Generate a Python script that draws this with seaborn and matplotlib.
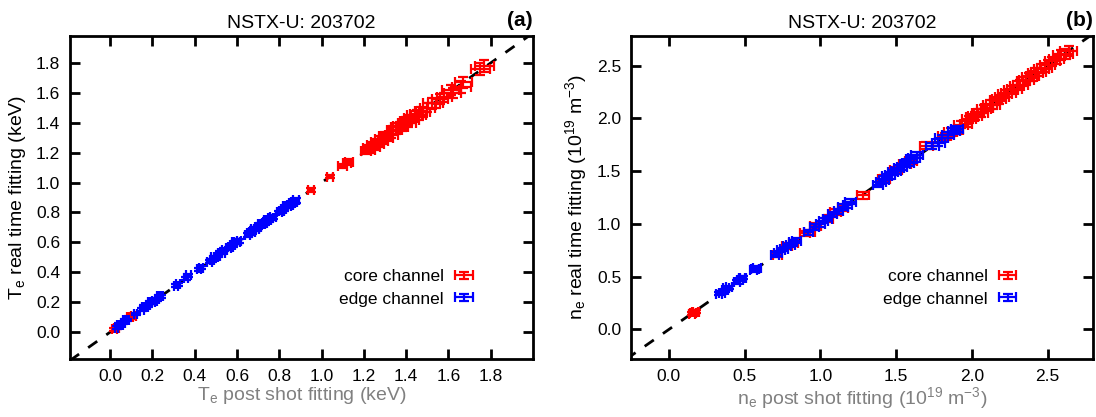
import matplotlib
matplotlib.use("Agg")
import matplotlib.pyplot as plt
from matplotlib.legend_handler import HandlerErrorbar
import seaborn as sns

# Panel (a): Te, keV
te_core_x = [0.02, 0.03, 0.09, 0.10, 0.11, 0.95, 1.04, 1.10, 1.12, 1.13,
             1.21, 1.22, 1.23, 1.24, 1.25, 1.26, 1.27, 1.28, 1.29, 1.30, 1.31,
             1.33, 1.34, 1.35, 1.36, 1.37, 1.38, 1.39, 1.40, 1.41, 1.42, 1.43, 1.44, 1.45, 1.46, 1.47, 1.48,
             1.50, 1.52, 1.54, 1.56, 1.58, 1.61, 1.62, 1.66, 1.67, 1.75, 1.77]
te_core_y = [0.02, 0.03, 0.10, 0.10, 0.11, 0.95, 1.04, 1.11, 1.13, 1.14,
             1.21, 1.23, 1.22, 1.25, 1.24, 1.27, 1.26, 1.29, 1.28, 1.31, 1.30,
             1.32, 1.35, 1.35, 1.37, 1.38, 1.37, 1.40, 1.41, 1.40, 1.43, 1.42, 1.45, 1.46, 1.45, 1.48, 1.47,
             1.50, 1.53, 1.53, 1.56, 1.57, 1.62, 1.60, 1.64, 1.67, 1.76, 1.78]
te_core_xerr = [0.01, 0.01, 0.01, 0.01, 0.01, 0.015, 0.015, 0.02, 0.02, 0.02,
                0.025, 0.025, 0.025, 0.025, 0.025, 0.025, 0.025, 0.025, 0.025, 0.03, 0.03,
                0.03, 0.03, 0.03, 0.03, 0.03, 0.03, 0.03, 0.03, 0.035, 0.03, 0.03, 0.035, 0.03, 0.035, 0.03, 0.035,
                0.035, 0.04, 0.035, 0.04, 0.035, 0.04, 0.04, 0.045, 0.04, 0.045, 0.045]
te_core_yerr = [0.01, 0.01, 0.01, 0.01, 0.01, 0.012, 0.012, 0.015, 0.015, 0.015,
                0.02, 0.02, 0.02, 0.02, 0.02, 0.02, 0.02, 0.02, 0.02, 0.025, 0.025,
                0.025, 0.025, 0.025, 0.025, 0.025, 0.025, 0.025, 0.025, 0.03, 0.025, 0.025, 0.03, 0.025, 0.03, 0.025, 0.03,
                0.03, 0.035, 0.03, 0.035, 0.03, 0.035, 0.035, 0.04, 0.035, 0.04, 0.04]

te_edge_x = [0.03, 0.04, 0.05, 0.06, 0.07, 0.08, 0.12,
             0.15, 0.16, 0.17, 0.18, 0.19, 0.20, 0.21, 0.22, 0.23, 0.24,
             0.31, 0.32, 0.36, 0.37, 0.42, 0.43,
             0.47, 0.48, 0.49, 0.50, 0.51, 0.52, 0.53, 0.54,
             0.56, 0.57, 0.58, 0.59, 0.60, 0.61,
             0.65, 0.66, 0.67, 0.68, 0.69, 0.70, 0.71, 0.72, 0.73, 0.74, 0.75, 0.76, 0.77,
             0.80, 0.81, 0.82, 0.83, 0.84, 0.85, 0.86, 0.87, 0.88]
te_edge_y = [0.03, 0.05, 0.05, 0.06, 0.08, 0.08, 0.12,
             0.15, 0.17, 0.17, 0.18, 0.20, 0.20, 0.21, 0.22, 0.24, 0.24,
             0.31, 0.32, 0.36, 0.38, 0.42, 0.43,
             0.47, 0.48, 0.50, 0.50, 0.51, 0.53, 0.53, 0.55,
             0.56, 0.57, 0.58, 0.60, 0.60, 0.61,
             0.65, 0.66, 0.67, 0.69, 0.69, 0.70, 0.72, 0.72, 0.73, 0.75, 0.75, 0.76, 0.77,
             0.80, 0.81, 0.82, 0.84, 0.84, 0.85, 0.86, 0.87, 0.88]
te_edge_xerr = [0.008, 0.008, 0.009, 0.008, 0.009, 0.008, 0.009,
                0.009, 0.01, 0.009, 0.01, 0.009, 0.01, 0.01, 0.009, 0.01, 0.01,
                0.01, 0.01, 0.01, 0.011, 0.01, 0.011,
                0.011, 0.01, 0.011, 0.011, 0.01, 0.011, 0.011, 0.012,
                0.011, 0.012, 0.011, 0.012, 0.012, 0.011,
                0.012, 0.012, 0.013, 0.012, 0.012, 0.013, 0.012, 0.013, 0.012, 0.013, 0.013, 0.012, 0.013,
                0.013, 0.013, 0.014, 0.013, 0.013, 0.014, 0.013, 0.014, 0.014]
te_edge_yerr = [0.008, 0.008, 0.008, 0.008, 0.009, 0.008, 0.009,
                0.009, 0.009, 0.009, 0.01, 0.009, 0.01, 0.009, 0.009, 0.01, 0.01,
                0.01, 0.01, 0.01, 0.01, 0.01, 0.011,
                0.011, 0.01, 0.011, 0.01, 0.01, 0.011, 0.011, 0.011,
                0.011, 0.011, 0.011, 0.012, 0.011, 0.011,
                0.012, 0.012, 0.012, 0.012, 0.012, 0.012, 0.012, 0.013, 0.012, 0.012, 0.013, 0.012, 0.013,
                0.013, 0.013, 0.013, 0.013, 0.013, 0.013, 0.013, 0.014, 0.014]

# Panel (b): ne, 1e19 m^-3
ne_core_x = [0.15, 0.16, 0.17, 0.18, 0.57, 0.72, 0.78, 0.82, 0.90, 0.93, 0.97,
             1.05, 1.10, 1.15, 1.28, 1.42, 1.50, 1.56, 1.60, 1.70,
             1.82, 1.86, 1.90, 1.93, 1.96, 1.98,
             2.00, 2.02, 2.04, 2.06, 2.08, 2.10, 2.12, 2.14, 2.16, 2.18, 2.20, 2.22, 2.24,
             2.26, 2.28, 2.30, 2.32, 2.34, 2.36, 2.38, 2.40, 2.42, 2.44, 2.46, 2.48, 2.50,
             2.53, 2.56, 2.59, 2.62, 2.64]
ne_core_y = [0.15, 0.16, 0.17, 0.17, 0.57, 0.71, 0.79, 0.82, 0.91, 0.92, 0.98,
             1.05, 1.11, 1.15, 1.27, 1.43, 1.51, 1.57, 1.60, 1.74,
             1.83, 1.87, 1.89, 1.94, 1.95, 1.99,
             2.01, 2.02, 2.05, 2.05, 2.09, 2.10, 2.13, 2.13, 2.17, 2.18, 2.20, 2.23, 2.24,
             2.27, 2.28, 2.31, 2.32, 2.35, 2.36, 2.39, 2.40, 2.43, 2.44, 2.47, 2.48, 2.51,
             2.54, 2.56, 2.60, 2.61, 2.64]
ne_core_xerr = [0.02, 0.02, 0.02, 0.02, 0.025, 0.03, 0.03, 0.03, 0.035, 0.035, 0.035,
                0.035, 0.035, 0.035, 0.04, 0.04, 0.04, 0.04, 0.04, 0.045,
                0.04, 0.045, 0.04, 0.045, 0.04, 0.045,
                0.04, 0.045, 0.04, 0.045, 0.045, 0.04, 0.045, 0.045, 0.04, 0.045, 0.045, 0.045, 0.05,
                0.045, 0.05, 0.045, 0.05, 0.045, 0.05, 0.05, 0.045, 0.05, 0.05, 0.05, 0.05, 0.05,
                0.05, 0.05, 0.055, 0.05, 0.055]
ne_core_yerr = [0.015, 0.015, 0.015, 0.015, 0.02, 0.025, 0.025, 0.025, 0.025, 0.025, 0.025,
                0.03, 0.03, 0.03, 0.03, 0.03, 0.03, 0.03, 0.03, 0.035,
                0.035, 0.035, 0.035, 0.035, 0.035, 0.035,
                0.035, 0.04, 0.035, 0.04, 0.04, 0.035, 0.04, 0.04, 0.035, 0.04, 0.04, 0.04, 0.04,
                0.04, 0.04, 0.04, 0.045, 0.04, 0.045, 0.04, 0.045, 0.045, 0.04, 0.045, 0.045, 0.045,
                0.045, 0.045, 0.05, 0.045, 0.05]

ne_edge_x = [0.33, 0.35, 0.37, 0.38, 0.40, 0.45, 0.47, 0.48, 0.49, 0.56, 0.57, 0.58,
             0.70, 0.72, 0.74, 0.76, 0.78, 0.80, 0.82, 0.84,
             0.92, 0.96, 1.00, 1.02, 1.05, 1.08, 1.12, 1.15, 1.18, 1.20,
             1.38, 1.40, 1.42, 1.44, 1.46, 1.48, 1.50, 1.52, 1.54, 1.56, 1.58, 1.60, 1.62, 1.64,
             1.74, 1.78, 1.80, 1.84, 1.88, 1.90]
ne_edge_y = [0.34, 0.35, 0.37, 0.39, 0.40, 0.45, 0.47, 0.49, 0.49, 0.56, 0.57, 0.58,
             0.71, 0.72, 0.75, 0.76, 0.79, 0.80, 0.83, 0.84,
             0.92, 0.97, 1.00, 1.03, 1.05, 1.09, 1.12, 1.16, 1.18, 1.21,
             1.37, 1.40, 1.42, 1.45, 1.46, 1.49, 1.50, 1.53, 1.54, 1.57, 1.58, 1.61, 1.62, 1.65,
             1.74, 1.77, 1.81, 1.84, 1.88, 1.90]
ne_edge_xerr = [0.02, 0.02, 0.02, 0.02, 0.02, 0.02, 0.02, 0.02, 0.02, 0.025, 0.025, 0.025,
                0.025, 0.025, 0.025, 0.025, 0.025, 0.03, 0.025, 0.03,
                0.03, 0.03, 0.03, 0.03, 0.03, 0.03, 0.03, 0.035, 0.03, 0.035,
                0.035, 0.035, 0.035, 0.035, 0.035, 0.035, 0.035, 0.035, 0.035, 0.035, 0.04, 0.035, 0.04, 0.04,
                0.045, 0.04, 0.04, 0.04, 0.04, 0.04]
ne_edge_yerr = [0.015, 0.015, 0.015, 0.015, 0.015, 0.015, 0.015, 0.015, 0.015, 0.02, 0.02, 0.02,
                0.02, 0.02, 0.02, 0.02, 0.02, 0.02, 0.02, 0.025,
                0.025, 0.025, 0.025, 0.025, 0.025, 0.025, 0.025, 0.025, 0.025, 0.025,
                0.025, 0.025, 0.03, 0.025, 0.03, 0.025, 0.03, 0.03, 0.025, 0.03, 0.03, 0.03, 0.03, 0.03,
                0.03, 0.03, 0.03, 0.03, 0.03, 0.03]

te_ticks = [0.0, 0.2, 0.4, 0.6, 0.8, 1.0, 1.2, 1.4, 1.6, 1.8]
ne_ticks = [0.0, 0.5, 1.0, 1.5, 2.0, 2.5]

sns.set_style("ticks")
plt.rcParams['font.family'] = ['Liberation Sans', 'DejaVu Sans']
plt.rcParams['mathtext.default'] = 'regular'
plt.rcParams['text.color'] = 'black'
plt.rcParams['axes.labelcolor'] = 'black'
plt.rcParams['xtick.color'] = 'black'
plt.rcParams['ytick.color'] = 'black'
plt.rcParams['axes.edgecolor'] = 'black'

fig = plt.figure(figsize=(10.96, 4.17), dpi=100)
ax_a = fig.add_axes([70 / 1096, 58 / 417, 463 / 1096, 323 / 417])
ax_b = fig.add_axes([631 / 1096, 58 / 417, 462 / 1096, 323 / 417])

panels = [
    (ax_a, "(a)", (-0.19, 2.0), (-0.18, 1.98), te_ticks,
     te_core_x, te_core_y, te_core_xerr, te_core_yerr,
     te_edge_x, te_edge_y, te_edge_xerr, te_edge_yerr,
     "T$_e$ post shot fitting (keV)", "T$_e$ real time fitting (keV)", 0.905),
    (ax_b, "(b)", (-0.25, 2.8), (-0.28, 2.78), ne_ticks,
     ne_core_x, ne_core_y, ne_core_xerr, ne_core_yerr,
     ne_edge_x, ne_edge_y, ne_edge_xerr, ne_edge_yerr,
     "n$_e$ post shot fitting (10$^{19}$ m$^{-3}$)",
     "n$_e$ real time fitting (10$^{19}$ m$^{-3}$)", 0.87),
]

for (ax, tag, xl, yl, ticks, cx, cy, cxe, cye, ex, ey, exe, eye,
     xlab, ylab, legx) in panels:
    lo = min(xl[0], yl[0])
    hi = max(xl[1], yl[1])
    sns.lineplot(x=[lo, hi], y=[lo, hi], ax=ax, color='black', lw=2,
                 linestyle=(0, (4, 4)), zorder=1)
    h_core = ax.errorbar(cx, cy, xerr=cxe, yerr=cye, fmt='none', ecolor='red',
                         elinewidth=1.6, capsize=3.5, capthick=1.6, label='core channel', zorder=2)
    h_edge = ax.errorbar(ex, ey, xerr=exe, yerr=eye, fmt='none', ecolor='blue',
                         elinewidth=1.6, capsize=3.5, capthick=1.6, label='edge channel', zorder=3)
    ax.set_xlim(*xl)
    ax.set_ylim(*yl)
    ax.set_xticks(ticks)
    ax.set_yticks(ticks)
    ax.set_xticklabels([f"{t:.1f}" for t in ticks])
    ax.set_yticklabels([f"{t:.1f}" for t in ticks])
    ax.tick_params(direction='in', length=7, width=2, labelsize=12.5,
                   top=True, right=True, pad=7, colors='black')
    for sp in ax.spines.values():
        sp.set_visible(True)
        sp.set_linewidth(2)
        sp.set_color('black')
    ax.set_xlabel(xlab, fontsize=14, color='#808080', labelpad=1)
    ax.set_ylabel(ylab, fontsize=14, color='black', labelpad=6)
    ax.set_title("NSTX-U: 203702", fontsize=14, pad=6, color='black')
    ax.text(1.0, 1.02, tag, transform=ax.transAxes, ha='right', va='bottom',
            fontsize=15, fontweight='bold')
    ax.legend(handles=[h_core, h_edge], loc='center right',
              bbox_to_anchor=(legx, 0.22), frameon=False, markerfirst=False,
              fontsize=12.5, handlelength=1.1, handletextpad=0.6, labelspacing=0.4,
              handler_map={type(h_core): HandlerErrorbar(xerr_size=0.5, yerr_size=0.2)})

fig.savefig("out.png", dpi=100)
